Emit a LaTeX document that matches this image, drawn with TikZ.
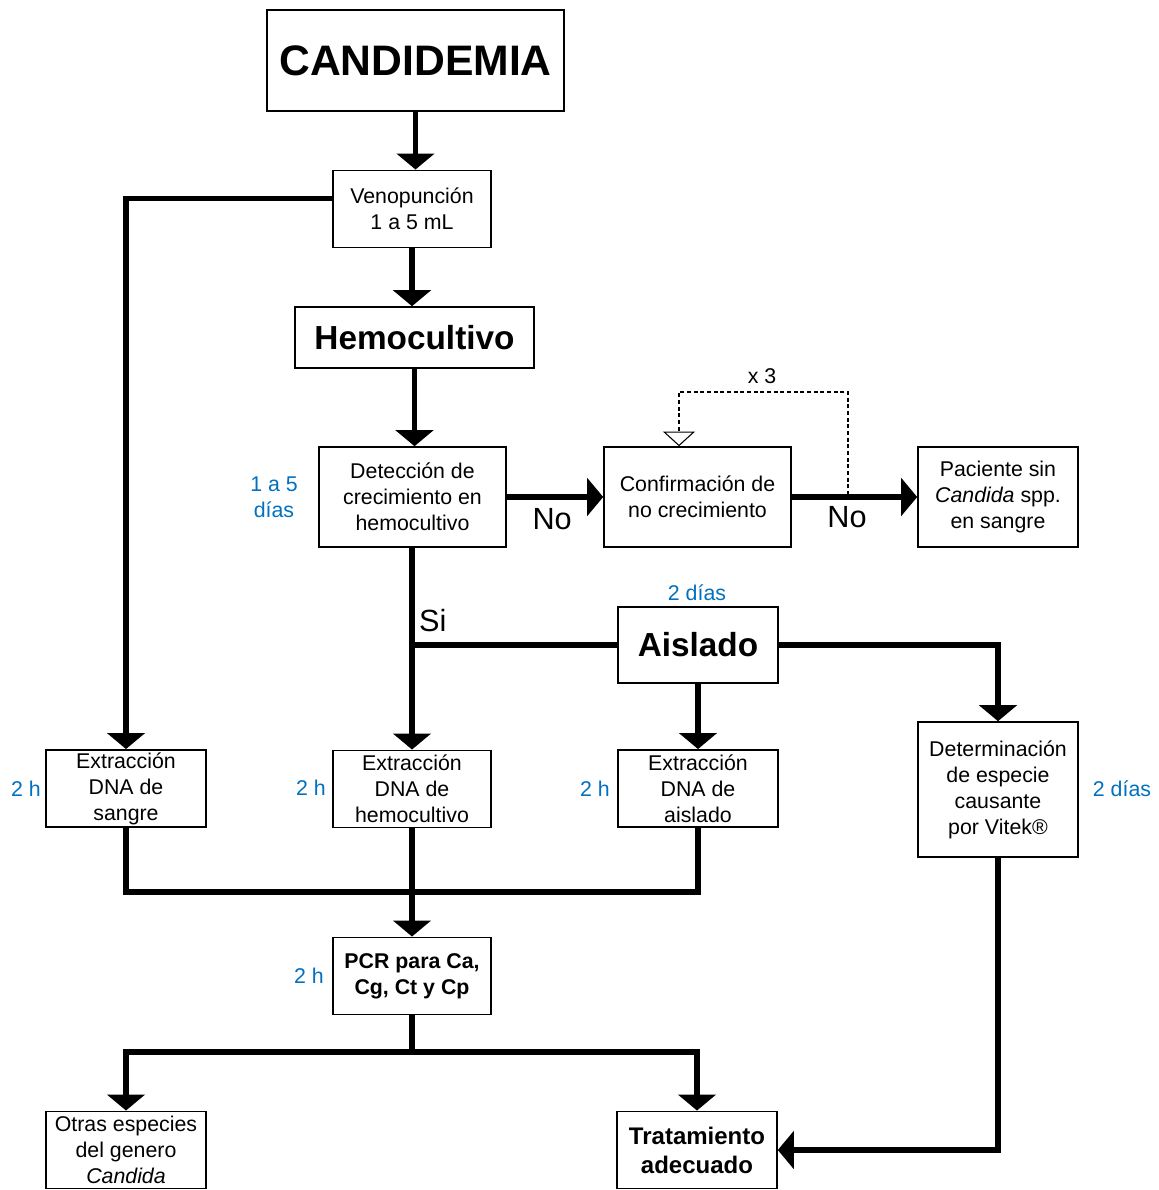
\documentclass[tikz,border=0pt]{standalone}
\usepackage{fontspec}
\setmainfont{Liberation Sans}
\usepackage{xcolor}
\usetikzlibrary{arrows.meta,calc,positioning}
\definecolor{azul}{RGB}{0,112,192}
\newcommand{\tam}{\fontsize{16}{19.5}\selectfont}
\newcommand{\grande}{\fontsize{23}{27}\selectfont}

\begin{document}
\begin{tikzpicture}[x=0.75pt,y=-0.75pt,
    caja/.style={draw,line width=1.2pt,align=center,inner sep=0pt,
      minimum width=120pt,minimum height=58pt,font=\tam},
    linea/.style={line width=4pt},
    flecha/.style={linea,-{Triangle[length=12pt,width=28pt]}},
    repetir/.style={line width=0.8pt,dash pattern=on 3pt off 2pt,
      -{Triangle[open,fill=white,length=11pt,width=24pt]}},
    tiempo/.style={text=azul,align=center,font=\tam}]
  \useasboundingbox (0,0) rectangle (1158,1190);
  \node[caja,minimum width=222.75pt,minimum height=75.75pt,
    font=\bfseries\fontsize{32}{38}\selectfont] (cand) at (415.5,60.5) {CANDIDEMIA};
  \node[caja,minimum width=118.5pt] (veno) at (412,209) {Venopunción\\1 a 5 mL};
  \node[caja,minimum width=179.25pt,minimum height=45.75pt,
    font=\bfseries\fontsize{25}{30}\selectfont] (hemo) at (414.5,337.5) {Hemocultivo};
  \node[caja,minimum width=140.25pt,minimum height=75pt] (detec) at (412.5,497)
    {Detección de\\crecimiento en\\hemocultivo};
  \node[caja,minimum width=140.25pt,minimum height=75pt] (conf) at (697.5,497)
    {Confirmación de\\no crecimiento};
  \node[caja,minimum height=75pt] (pac) at (998,497)
    {Paciente sin\\\textit{Candida} spp.\\en sangre};
  \node[caja,minimum height=57pt,font=\bfseries\fontsize{25}{30}\selectfont]
    (aisl) at (698,645) {Aislado};
  \node[caja] (exs) at (126,788.5) {Extracción\\DNA de\\sangre};
  \node[caja,minimum width=118.5pt] (exh) at (412,789) {Extracción\\DNA de\\hemocultivo};
  \node[caja] (exa) at (698,788.5) {Extracción\\DNA de\\aislado};
  \node[caja,minimum height=101.25pt] (det) at (998,789.5)
    {Determinación\\de especie\\causante\\por Vitek®};
  \node[caja,minimum width=118.5pt,font=\bfseries\tam] (pcr) at (412,976)
    {PCR para Ca,\\Cg, Ct y Cp};
  \node[caja] (otras) at (126,1150) {Otras especies\\del genero\\\textit{Candida}};
  \node[caja,font=\bfseries\fontsize{18}{21.75}\selectfont] (trat) at (697,1150)
    {Tratamiento\\adecuado};

  \node[tiempo] (t1) at (274,497) {1 a 5\\días};
  \node[tiempo] (t2) at (697,593) {2 días};
  \node[tiempo] (t3) at (26,789) {2 h};
  \node[tiempo] (t4) at (311,788) {2 h};
  \node[tiempo] (t5) at (595,789) {2 h};
  \node[tiempo] (t6) at (1122,789) {2 días};
  \node[tiempo] (t7) at (309,976) {2 h};
  \node[font=\tam] (veces) at (762,376) {x 3};

  \coordinate (lazo) at (848,495);
  \coordinate (arriba) at (679,392);
  \coordinate (union) at (412,892);
  \coordinate (rama) at (412,1052);

  \draw[flecha] (cand.south) -- (cand.south |- veno.north);
  \draw[flecha] (veno.south) -- (veno.south |- hemo.north);
  \draw[flecha] (hemo.south) -- (hemo.south |- detec.north);
  \draw[flecha] (detec.east) -- (conf.west)
    node[pos=0.47,below,font=\grande,yshift=-3pt] {No};
  \draw[flecha] (conf.east) -- (pac.west)
    node[pos=0.44,below,font=\grande,yshift=-2pt] {No};
  \draw[repetir] (lazo) |- (arriba) -- (arriba |- conf.north);
  \draw[flecha] (exh.north |- detec.south) -- (exh.north)
    node[pos=0.36,right,font=\grande] {Si};
  \draw[linea] (aisl.west) -- (aisl.west -| exh.north);
  \draw[flecha] (aisl.east) -| (det.north);
  \draw[flecha] (aisl.south) -- (exa.north);
  \draw[flecha] ([yshift=8pt]veno.west) -| (exs.north);
  \draw[linea] (exs.south) |- (union) -| (exa.south);
  \draw[flecha] (exh.south) -- (pcr.north);
  \draw[linea] (pcr.south) -- (rama);
  \draw[flecha] (rama) -| (otras.north);
  \draw[flecha] (rama) -| (trat.north);
  \draw[flecha] (det.south) |- (trat.east);
\end{tikzpicture}
\end{document}
